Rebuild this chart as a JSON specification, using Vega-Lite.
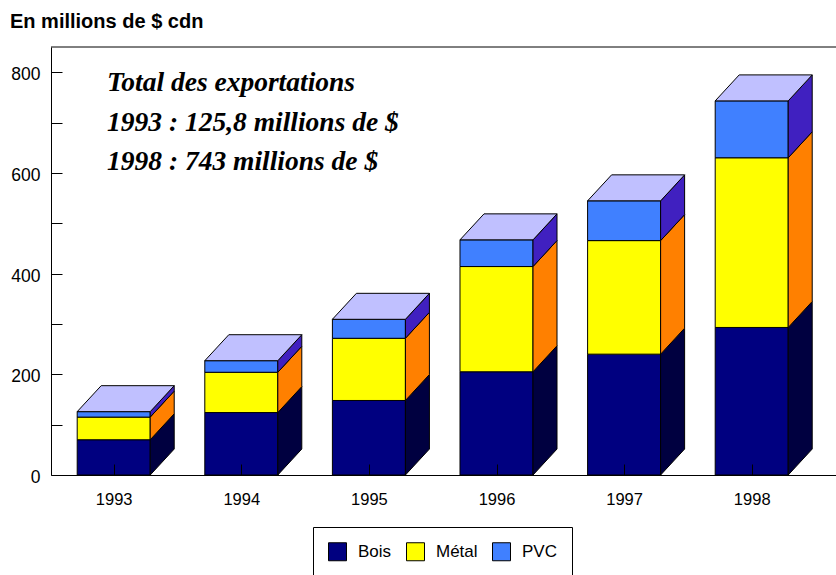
{
  "$schema": "https://vega.github.io/schema/vega-lite/v6.json",
  "width": 785,
  "height": 428,
  "autosize": {"type": "none"},
  "padding": {"left": 51, "top": 47, "right": 0, "bottom": 100},
  "background": "white",
  "view": {"stroke": null},
  "title": {"text": "En millions de $ cdn", "anchor": "start", "frame": "group", "dx": -41, "offset": -1, "baseline": "alphabetic", "font": "Liberation Sans", "fontSize": 20, "fontWeight": "bold", "color": "black"},
  "config": {"font": "Liberation Sans"},
  "data": {"values": [
    {"year": 1993, "mat": "Bois", "v": 70},
    {"year": 1993, "mat": "Métal", "v": 45},
    {"year": 1993, "mat": "PVC", "v": 10.8},
    {"year": 1994, "mat": "Bois", "v": 124},
    {"year": 1994, "mat": "Métal", "v": 80},
    {"year": 1994, "mat": "PVC", "v": 23},
    {"year": 1995, "mat": "Bois", "v": 148},
    {"year": 1995, "mat": "Métal", "v": 123.5},
    {"year": 1995, "mat": "PVC", "v": 37.7},
    {"year": 1996, "mat": "Bois", "v": 205},
    {"year": 1996, "mat": "Métal", "v": 209},
    {"year": 1996, "mat": "PVC", "v": 53},
    {"year": 1997, "mat": "Bois", "v": 240},
    {"year": 1997, "mat": "Métal", "v": 225.5},
    {"year": 1997, "mat": "PVC", "v": 79},
    {"year": 1998, "mat": "Bois", "v": 293},
    {"year": 1998, "mat": "Métal", "v": 337},
    {"year": 1998, "mat": "PVC", "v": 113}
  ]},
  "transform": [
    {"calculate": "indexof(['Bois','Métal','PVC'], datum.mat)", "as": "ord"},
    {"stack": "v", "groupby": ["year"], "sort": [{"field": "ord", "order": "ascending"}], "as": ["y0", "y1"]},
    {"calculate": "datum.year - 0.2861", "as": "xl"},
    {"calculate": "datum.year + 0.2861", "as": "xr"}
  ],
  "layer": [
    {
      "mark": {"type": "rect", "stroke": "black", "strokeWidth": 1},
      "encoding": {
        "x": {"field": "xl", "type": "quantitative", "scale": {"domain": [1992.5086, 1998.6606], "nice": false, "zero": false},
          "axis": {"values": [1993, 1994, 1995, 1996, 1997, 1998], "format": "d", "title": null, "grid": false, "domainColor": "black", "tickColor": "black", "tickSize": -11, "labelPadding": 27, "labelFontSize": 16.5, "labelFont": "Liberation Sans", "labelColor": "black", "labelFlush": false, "zindex": 1}},
        "x2": {"field": "xr"},
        "y": {"field": "y1", "type": "quantitative", "scale": {"domain": [0, 850], "nice": false, "zero": true},
          "axis": {"values": [0, 100, 200, 300, 400, 500, 600, 700, 800], "labelExpr": "datum.value % 200 == 0 ? datum.label : ''", "title": null, "grid": false, "domainColor": "black", "tickColor": "black", "tickSize": -11, "labelPadding": 22, "labelFontSize": 17.5, "labelFont": "Liberation Sans", "labelColor": "black", "labelOffset": 2.5, "zindex": 1}},
        "y2": {"field": "y0"},
        "color": {"field": "mat", "type": "nominal", "scale": {"domain": ["Bois", "Métal", "PVC"], "range": ["#000080", "#ffff00", "#4080ff"]},
          "legend": {"orient": "none", "legendX": 262, "legendY": 480, "direction": "horizontal", "title": null, "symbolType": "square", "symbolSize": 324, "symbolStrokeColor": "black", "symbolStrokeWidth": 1, "symbolOpacity": 1, "labelFontSize": 17, "labelFont": "Liberation Sans", "labelColor": "black", "labelOffset": 11, "columnPadding": 12, "padding": 15, "strokeColor": "black", "fillColor": "white"}}
      }
    },
    {
      "transform": [
        {"calculate": "datum.xr + 0.1881", "as": "xb"},
        {"fold": ["xr", "xb"], "as": ["k", "px"]},
        {"calculate": "datum.k == 'xr' ? datum.y0 : datum.y0 + 51.6", "as": "sy0"},
        {"calculate": "datum.k == 'xr' ? datum.y1 : datum.y1 + 51.6", "as": "sy1"}
      ],
      "mark": {"type": "area", "stroke": "black", "strokeWidth": 1, "opacity": 1},
      "encoding": {
        "x": {"field": "px", "type": "quantitative", "scale": {"domain": [1992.5086, 1998.6606], "nice": false, "zero": false},
          "axis": {"values": [1993, 1994, 1995, 1996, 1997, 1998], "format": "d", "title": null, "grid": false, "domainColor": "black", "tickColor": "black", "tickSize": -11, "labelPadding": 27, "labelFontSize": 16.5, "labelFont": "Liberation Sans", "labelColor": "black", "labelFlush": false, "zindex": 1}},
        "y": {"field": "sy1", "type": "quantitative", "scale": {"domain": [0, 850], "nice": false, "zero": true}, "stack": null,
          "axis": {"values": [0, 100, 200, 300, 400, 500, 600, 700, 800], "labelExpr": "datum.value % 200 == 0 ? datum.label : ''", "title": null, "grid": false, "domainColor": "black", "tickColor": "black", "tickSize": -11, "labelPadding": 22, "labelFontSize": 17.5, "labelFont": "Liberation Sans", "labelColor": "black", "labelOffset": 2.5, "zindex": 1}},
        "y2": {"field": "sy0"},
        "fill": {"field": "mat", "type": "nominal", "scale": {"domain": ["Bois", "Métal", "PVC"], "range": ["#000040", "#ff8000", "#4020c0"]}, "legend": null},
        "detail": {"field": "year"}
      }
    },
    {
      "transform": [
        {"filter": "datum.mat == 'PVC'"},
        {"calculate": "datum.y1", "as": "ta"},
        {"calculate": "datum.y1 + 51.6", "as": "tb"},
        {"fold": ["ta", "tb"], "as": ["tk", "ty"]},
        {"calculate": "datum.tk == 'ta' ? datum.xl : datum.xl + 0.1881", "as": "tx0"},
        {"calculate": "datum.tk == 'ta' ? datum.xr : datum.xr + 0.1881", "as": "tx1"}
      ],
      "mark": {"type": "area", "orient": "horizontal", "fill": "#c0c0ff", "stroke": "black", "strokeWidth": 1, "opacity": 1},
      "encoding": {
        "y": {"field": "ty", "type": "quantitative", "scale": {"domain": [0, 850], "nice": false, "zero": true}, "stack": null,
          "axis": {"values": [0, 100, 200, 300, 400, 500, 600, 700, 800], "labelExpr": "datum.value % 200 == 0 ? datum.label : ''", "title": null, "grid": false, "domainColor": "black", "tickColor": "black", "tickSize": -11, "labelPadding": 22, "labelFontSize": 17.5, "labelFont": "Liberation Sans", "labelColor": "black", "labelOffset": 2.5, "zindex": 1}},
        "x": {"field": "tx0", "type": "quantitative", "scale": {"domain": [1992.5086, 1998.6606], "nice": false, "zero": false},
          "axis": {"values": [1993, 1994, 1995, 1996, 1997, 1998], "format": "d", "title": null, "grid": false, "domainColor": "black", "tickColor": "black", "tickSize": -11, "labelPadding": 27, "labelFontSize": 16.5, "labelFont": "Liberation Sans", "labelColor": "black", "labelFlush": false, "zindex": 1}},
        "x2": {"field": "tx1"},
        "detail": {"field": "year"}
      }
    },
    {
      "data": {"values": [{}]},
      "mark": {"type": "rule", "color": "black", "strokeWidth": 1},
      "encoding": {
        "y": {"datum": 850, "type": "quantitative",
          "axis": {"values": [0, 100, 200, 300, 400, 500, 600, 700, 800], "labelExpr": "datum.value % 200 == 0 ? datum.label : ''", "title": null, "grid": false, "domainColor": "black", "tickColor": "black", "tickSize": -11, "labelPadding": 22, "labelFontSize": 17.5, "labelFont": "Liberation Sans", "labelColor": "black", "labelOffset": 2.5, "zindex": 1}}
      }
    },
    {
      "data": {"values": [{}]},
      "mark": {"type": "text", "text": ["Total des exportations", "1993 : 125,8 millions de $", "1998 : 743 millions de $"], "font": "Liberation Serif", "fontStyle": "italic", "fontWeight": "bold", "fontSize": 27.5, "align": "left", "baseline": "alphabetic", "lineHeight": 39.5, "color": "black"},
      "encoding": {
        "x": {"datum": 1992.9475, "type": "quantitative",
          "axis": {"values": [1993, 1994, 1995, 1996, 1997, 1998], "format": "d", "title": null, "grid": false, "domainColor": "black", "tickColor": "black", "tickSize": -11, "labelPadding": 27, "labelFontSize": 16.5, "labelFont": "Liberation Sans", "labelColor": "black", "labelFlush": false, "zindex": 1}},
        "y": {"datum": 762, "type": "quantitative",
          "axis": {"values": [0, 100, 200, 300, 400, 500, 600, 700, 800], "labelExpr": "datum.value % 200 == 0 ? datum.label : ''", "title": null, "grid": false, "domainColor": "black", "tickColor": "black", "tickSize": -11, "labelPadding": 22, "labelFontSize": 17.5, "labelFont": "Liberation Sans", "labelColor": "black", "labelOffset": 2.5, "zindex": 1}}
      }
    }
  ]
}
